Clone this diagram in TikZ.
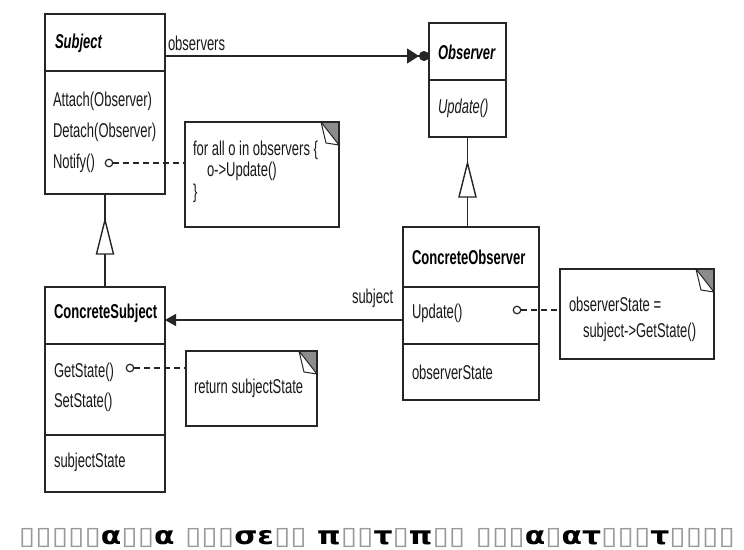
\documentclass[tikz,border=0pt]{standalone}
\usepackage{fontspec}
\setmainfont{Liberation Sans}[FakeStretch=0.65]
\newfontfamily\capfont{DejaVu Sans}
\usetikzlibrary{arrows.meta,calc}

% missing-glyph box used in the caption
\newcommand\tofu{{\color{black!40}\char"25AF}}

\begin{document}
\begin{tikzpicture}[x=1pt,y=-1pt,
  every node/.style={inner sep=0pt, outer sep=0pt},
  part/.style={draw=black!85, line width=1.4pt, fill=white, anchor=north west},
  note/.style={draw=black!85, line width=1.4pt, fill=white, anchor=north west},
  txt/.style={anchor=west, text=black!90, font=\fontsize{20}{22}\selectfont},
  cname/.style={anchor=west, text=black, font=\fontsize{20}{22}\selectfont\bfseries},
  aname/.style={anchor=west, text=black, font=\fontsize{20}{22}\selectfont\bfseries\itshape},
  conn/.style={draw=black!85, line width=1.4pt},
  dashlink/.style={draw=black!85, line width=1.3pt, dash pattern=on 6pt off 4pt},
  lolli/.style={circle, draw=black!85, line width=1.2pt, fill=white, minimum size=7.5pt},
]
\useasboundingbox (0,0) rectangle (744,549);

% ---------- class boxes (one node per compartment) ----------
\node[part, minimum width=120pt, minimum height=57pt]  (subjN) at (45,14) {};
\node[part, minimum width=120pt, minimum height=123pt] (subjO) at (45,71) {};

\node[part, minimum width=77pt, minimum height=57pt] (obsN) at (429,23) {};
\node[part, minimum width=77pt, minimum height=57pt] (obsO) at (429,80) {};

\node[part, minimum width=120pt, minimum height=57pt] (csubN) at (45,287) {};
\node[part, minimum width=120pt, minimum height=91pt] (csubO) at (45,344) {};
\node[part, minimum width=120pt, minimum height=57pt] (csubA) at (45,435) {};

\node[part, minimum width=136pt, minimum height=60pt] (cobsN) at (403,227) {};
\node[part, minimum width=136pt, minimum height=57pt] (cobsO) at (403,287) {};
\node[part, minimum width=136pt, minimum height=56pt] (cobsA) at (403,344) {};

% ---------- class texts ----------
\node[aname] (tSubj) at (55,43) {Subject};
\node[txt] (tAttach) at (53,101) {Attach(Observer)};
\node[txt] (tDetach) at (53,132) {Detach(Observer)};
\node[txt] (tNotify) at (53,163) {Notify()};

\node[aname] (tObs) at (438,52) {Observer};
\node[txt, font=\fontsize{20}{22}\selectfont\itshape] (tUpd) at (438,108) {Update()};

\node[cname] (tCSubj) at (54,313) {ConcreteSubject};
\node[txt] (tGet) at (54,372) {GetState()};
\node[txt] (tSet) at (54,402) {SetState()};
\node[txt] (tSState) at (54,462) {subjectState};

\node[cname] (tCObs) at (412,257) {ConcreteObserver};
\node[txt] (tCUpd) at (412,313) {Update()};
\node[txt] (tOState) at (412,372) {observerState};

% ---------- notes ----------
\node[note, minimum width=154pt, minimum height=105pt] (note1) at (185,122) {};
\node[note, minimum width=131pt, minimum height=75pt]  (note2) at (186,351) {};
\node[note, minimum width=154pt, minimum height=90pt]  (note3) at (560,269) {};

% folded corners
\foreach \n in {note1,note2,note3}{
  \fill[black!45] ($(\n.north east)+(-18,0)$) -- (\n.north east) -- ($(\n.north east)+(0,23)$) -- cycle;
  \draw[black!85, line width=1pt, fill=white, line join=round]
    ($(\n.north east)+(-18,0)$) -- ($(\n.north east)+(0,23)$) -- ($(\n.north east)+(-13,21)$) -- cycle;
  \draw[black!85, line width=1.4pt] (\n.north west) rectangle (\n.south east);
}

\node[txt, align=left, font=\fontsize{20}{21.5}\selectfont] (tN1) at (193,171.5)
  {for all o in observers \{\\\hspace*{14pt}o->Update()\\\}};
\node[txt] (tN2) at (194,388) {return subjectState};
\node[txt, align=left, font=\fontsize{20}{26}\selectfont] (tN3) at (569,319)
  {observerState =\\\hspace*{14pt}subject->GetState()};

% ---------- associations ----------
\coordinate (oa) at ($(subjN.east)+(0,13.5)$);
\draw[conn, -{Triangle[length=12pt,width=15pt]Circle[length=10pt,width=10pt]}] (oa) -- (oa -| obsN.west);
\node[txt] (lObs) at (168,43) {observers};

\coordinate (sa) at ($(cobsO.west)+(0,4.5)$);
\draw[conn, -{Triangle[length=11pt,width=12pt]}] (sa) -- (sa -| csubN.east);
\node[txt] (lSubj) at (352,298) {subject};

% ---------- generalisations ----------
\draw[conn] (csubN.north) -- (subjO.south);
\draw[conn, fill=white] ($(subjO.south)+(0,26)$) -- ++(8.5,34) -- ++(-17,0) -- cycle;

\coordinate (ob) at (obsO.south);
\draw[conn] (ob) -- (ob |- cobsN.north);
\draw[conn, fill=white] ($(ob)+(0,26)$) -- ++(8.5,34) -- ++(-17,0) -- cycle;

% ---------- implementation notes links ----------
\node[lolli] (c1) at (109,163) {};
\draw[dashlink] (c1) -- (c1 -| note1.west);
\node[lolli] (c2) at (130,368) {};
\draw[dashlink] (c2) -- (c2 -| note2.west);
\node[lolli] (c3) at (517,310) {};
\draw[dashlink] (c3) -- (c3 -| note3.west);

% ---------- caption ----------
\node[font=\capfont\bfseries\fontsize{25}{27}\selectfont] (cap) at (377,538)
  {\resizebox{716pt}{\height}{\tofu\tofu\tofu\tofu\tofu α\tofu\tofu α \tofu\tofu\tofu σε\tofu\tofu{} π\tofu\tofu τ\tofu π\tofu\tofu{} \tofu\tofu\tofu α\tofu ατ\tofu\tofu\tofu τ\tofu\tofu\tofu\tofu}};
\end{tikzpicture}
\end{document}
